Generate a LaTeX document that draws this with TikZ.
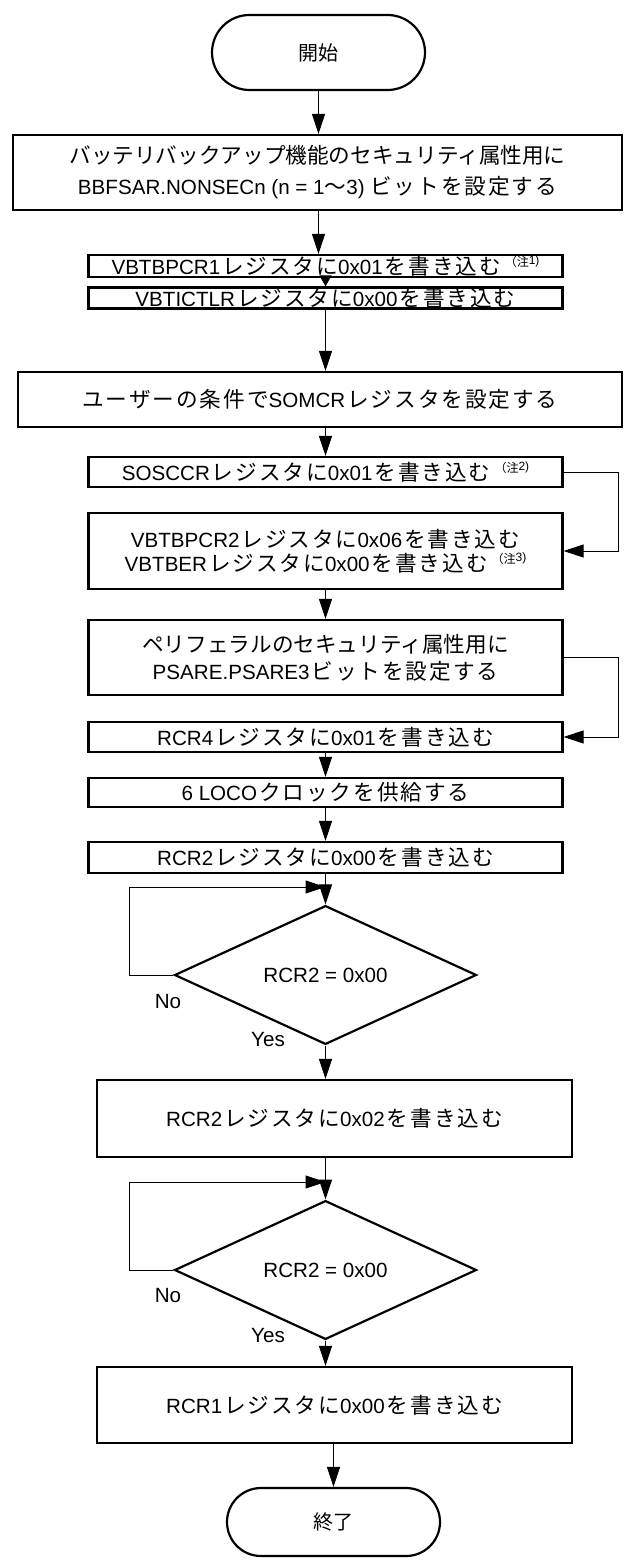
\documentclass[tikz,border=0pt]{standalone}
\usepackage{fontspec}
\setmainfont{Liberation Sans}
\newfontfamily\jfont{Noto Sans CJK JP}[Scale=1.05, LetterSpace=9]
\newfontfamily\jnar{Noto Sans CJK JP}[Scale=1.05]
\newfontfamily\jbig{Noto Sans CJK JP}
\usetikzlibrary{shapes.geometric,shapes.misc,arrows.meta}
\newcommand\jtxt[1]{{\jfont #1}}
\newcommand\jtxn[1]{{\jnar #1}}
\newcommand\wrreg[2]{#1\hspace{1pt}\jtxt{レジスタに}#2\hspace{1pt}\jtxt{を書き込む}}
\newcommand\chuu[1]{\hspace{2pt}\raisebox{0.7ex}{\fontsize{6pt}{6pt}\selectfont{\jbig （注}\raisebox{0.3ex}{#1)}}}
\begin{document}
\begin{tikzpicture}[x=0.5pt, y=-0.5pt,
  every node/.style={font=\fontsize{10.3pt}{13pt}\selectfont, inner sep=0pt},
  box/.style={draw, line width=1.1pt, minimum width=#1, align=center},
  term/.style={draw, line width=1.1pt, rounded rectangle, minimum width=106.5pt, minimum height=#1,
    font=\fontsize{10pt}{12pt}\selectfont\jbig},
  dec/.style={draw, line width=1.1pt, diamond, minimum width=151pt, minimum height=57pt},
  arr/.style={-{Triangle[length=10pt, width=6.5pt]}, line width=0.5pt},
  arrs/.style={-{Triangle[length=5.5pt, width=6pt]}, line width=0.5pt}]
\useasboundingbox (0,0) rectangle (626,1561);
% main flow
\node[term=37.5pt] (start) at (318.5,52.5) {開始};
\node[box=304.5pt, minimum height=37.5pt, font=\fontsize{10.3pt}{15.5pt}\selectfont] (bbf) at (317.5,172.5)
  {\jtxn{バッテリバックアップ機能のセキュリティ属性用に}\\BBFSAR.NONSECn (n = 1\jtxt{〜}3) \jtxt{ビットを設定する}};
\node[box=237pt, minimum height=11pt] (bpcr1) at (325.5,266) {\wrreg{VBTBPCR1}{0x01}\chuu{1}};
\node[box=237pt, minimum height=10.5pt] (ictl) at (325.5,298) {\wrreg{VBTICTLR}{0x00}};
\node[box=302pt, minimum height=27.5pt] (somcr) at (320,399.5) {\jtxt{ユーザーの条件で}SOMCR\hspace{1pt}\jtxt{レジスタを設定する}};
\node[box=237pt, minimum height=15pt] (sosc) at (325.5,472) {\wrreg{SOSCCR}{0x01}\chuu{2}};
\node[box=237pt, minimum height=38pt, font=\fontsize{10.3pt}{12pt}\selectfont] (bpcr2) at (325.5,551)
  {\wrreg{VBTBPCR2}{0x06}\\\wrreg{VBTBER}{0x00}\chuu{3}};
\node[box=237pt, minimum height=37.5pt, font=\fontsize{10.3pt}{13.5pt}\selectfont] (psare) at (325.5,657.5)
  {\jtxn{ペリフェラルのセキュリティ属性用に}\\PSARE.PSARE3\hspace{1pt}\jtxt{ビットを設定する}};
\node[box=237pt, minimum height=15pt] (rcr4) at (325.5,737) {\wrreg{RCR4}{0x01}};
\node[box=237pt, minimum height=14.5pt] (loco) at (325.5,792.5) {6 LOCO\hspace{1pt}\jtxt{クロックを供給する}};
\node[box=237pt, minimum height=15.5pt] (rcr2a) at (325.5,857.5) {\wrreg{RCR2}{0x00}};
\node[dec] (chk1) at (325.5,975) {RCR2 = 0x00};
\node[box=237.5pt, minimum height=38.5pt] (rcr2b) at (334.5,1118.5) {\wrreg{RCR2}{0x02}};
\node[dec] (chk2) at (325.5,1270) {RCR2 = 0x00};
\node[box=237.5pt, minimum height=38pt] (rcr1) at (334.5,1405) {\wrreg{RCR1}{0x00}};
\node[term=34pt] (stop) at (333.5,1522) {終了};
\node (no1) at (168,1002) {No};
\node (yes1) at (268,1040) {Yes};
\node (no2) at (168,1295) {No};
\node (yes2) at (268,1335) {Yes};
\coordinate (j1) at (325.5,887);
\coordinate (j2) at (325.5,1182);
% arrows
\draw[arr] (start.south) -- (start.south |- bbf.north);
\draw[arr] (bbf.south -| start) -- (start |- bpcr1.north);
\draw[arrs] (bpcr1) -- (ictl);
\draw[arr] (ictl.south) -- (ictl.south |- somcr.north);
\draw[arr] (somcr.south -| sosc) -- (sosc.north);
\draw[arr] (bpcr2) -- (psare);
\draw[arr] (rcr4) -- (loco);
\draw[arr] (loco) -- (rcr2a);
\draw[arr] (rcr2a) -- (chk1);
\draw[arr] (chk1.south) -- (chk1.south |- rcr2b.north);
\draw[arr] (rcr2b.south -| chk2) -- (chk2.north);
\draw[arr] (chk2.south) -- (chk2.south |- rcr1.north);
\draw[arr] (rcr1.south -| stop) -- (stop.north);
% loops
\draw[arr] (sosc.east) -- ++(55,0) |- (bpcr2.east);
\draw[arr] (psare.east) -- ++(55,0) |- (rcr4.east);
\draw[arr] (chk1.west) -- ++(-44,0) |- (j1);
\draw[arr] (chk2.west) -- ++(-44,0) |- (j2);
\end{tikzpicture}
\end{document}
